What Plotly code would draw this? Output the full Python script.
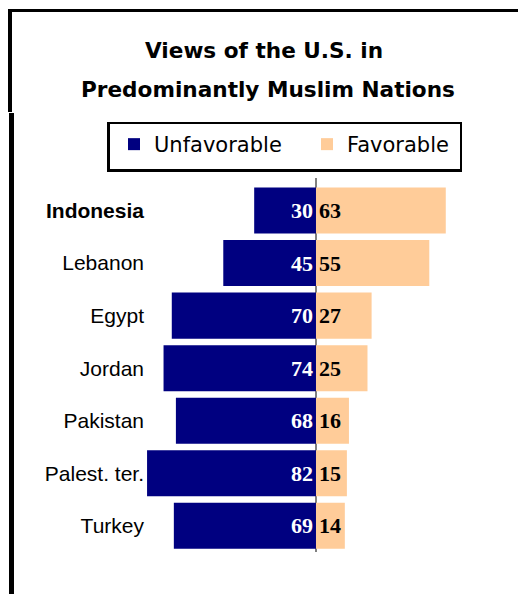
import plotly.graph_objects as go

# Survey results (percent)
countries = ["Indonesia", "Lebanon", "Egypt", "Jordan", "Pakistan", "Palest. ter.", "Turkey"]
unfavorable = [30, 45, 70, 74, 68, 82, 69]
favorable = [63, 55, 27, 25, 16, 15, 14]
tick_labels = ["<b>Indonesia</b>", "Lebanon", "Egypt", "Jordan", "Pakistan", "Palest. ter.", "Turkey"]

NAVY = "#000080"
PEACH = "#FFCC99"

W, H = 518, 594
ML, MR, MT, MB = 145, 0, 178, 42


def px_x(p):
    return (p - ML) / (W - ML - MR)


def px_y(p):
    return (H - MB - p) / (H - MT - MB)


fig = go.Figure()
fig.add_trace(go.Bar(
    name="Unfavorable",
    y=countries,
    x=[-v for v in unfavorable],
    orientation="h",
    marker=dict(color=NAVY, line=dict(width=0)),
    text=[str(v) for v in unfavorable],
    textposition="inside",
    insidetextanchor="start",
    constraintext="none",
    textfont=dict(family="Liberation Serif", size=22, color="white", weight="bold"),
    hoverinfo="skip",
))
fig.add_trace(go.Bar(
    name="Favorable",
    y=countries,
    x=favorable,
    orientation="h",
    marker=dict(color=PEACH, line=dict(width=0)),
    text=[str(v) for v in favorable],
    textposition="inside",
    insidetextanchor="start",
    constraintext="none",
    textfont=dict(family="Liberation Serif", size=22, color="black", weight="bold"),
    hoverinfo="skip",
))

# Outer frame pieces and the legend's box (x0, y0, x1, y1 in pixels)
frame = [
    (8, 9, 518, 12),
    (8, 9, 12, 112),
    (9, 113, 14, 594),
    (107, 122, 110, 172),   # legend box, heavier left edge
    (107, 169, 462, 172),   # legend box, heavier bottom edge
]
shapes = [
    dict(type="rect", xref="paper", yref="paper",
         x0=px_x(a), x1=px_x(c), y0=px_y(d), y1=px_y(b),
         fillcolor="black", line=dict(width=0), layer="above")
    for a, b, c, d in frame
]
shapes.insert(0, dict(
    type="rect", xref="paper", yref="paper",
    x0=px_x(108), x1=px_x(461), y0=px_y(171), y1=px_y(123),
    fillcolor="white", line=dict(color="black", width=2), layer="below",
))

annotations = [
    dict(text="<b>Views of the U.S. in</b>", xref="paper", yref="paper",
         x=px_x(264), y=px_y(51), xanchor="center", yanchor="middle",
         showarrow=False, font=dict(family="DejaVu Sans", size=21.6, color="black")),
    dict(text="<b>Predominantly Muslim Nations</b>", xref="paper", yref="paper",
         x=px_x(268), y=px_y(90), xanchor="center", yanchor="middle",
         showarrow=False, font=dict(family="DejaVu Sans", size=21.6, color="black")),
]

fig.update_layout(
    width=W, height=H,
    margin=dict(l=ML, r=MR, t=MT, b=MB),
    paper_bgcolor="white", plot_bgcolor="white",
    barmode="relative",
    bargap=0.124,
    showlegend=True,
    legend=dict(
        orientation="h",
        x=px_x(114), y=px_y(124), xanchor="left", yanchor="top",
        bgcolor="rgba(0,0,0,0)", borderwidth=0,
        font=dict(family="DejaVu Sans", size=21, color="black"),
        entrywidth=148, entrywidthmode="pixels",
        itemclick=False, itemdoubleclick=False,
    ),
    xaxis=dict(
        range=[-83.0, 98.06], showgrid=False, showticklabels=False,
        zeroline=True, zerolinecolor="#808080", zerolinewidth=1.5,
        layer="above traces", fixedrange=True,
    ),
    yaxis=dict(
        type="category", categoryorder="array", categoryarray=countries,
        range=[6.5, -0.62], tickmode="array", tickvals=countries, ticktext=tick_labels,
        showgrid=False, zeroline=False, ticks="",
        tickfont=dict(family="Liberation Sans", size=21, color="black"),
        fixedrange=True,
    ),
    shapes=shapes,
    annotations=annotations,
)

fig.write_html("out.html")
